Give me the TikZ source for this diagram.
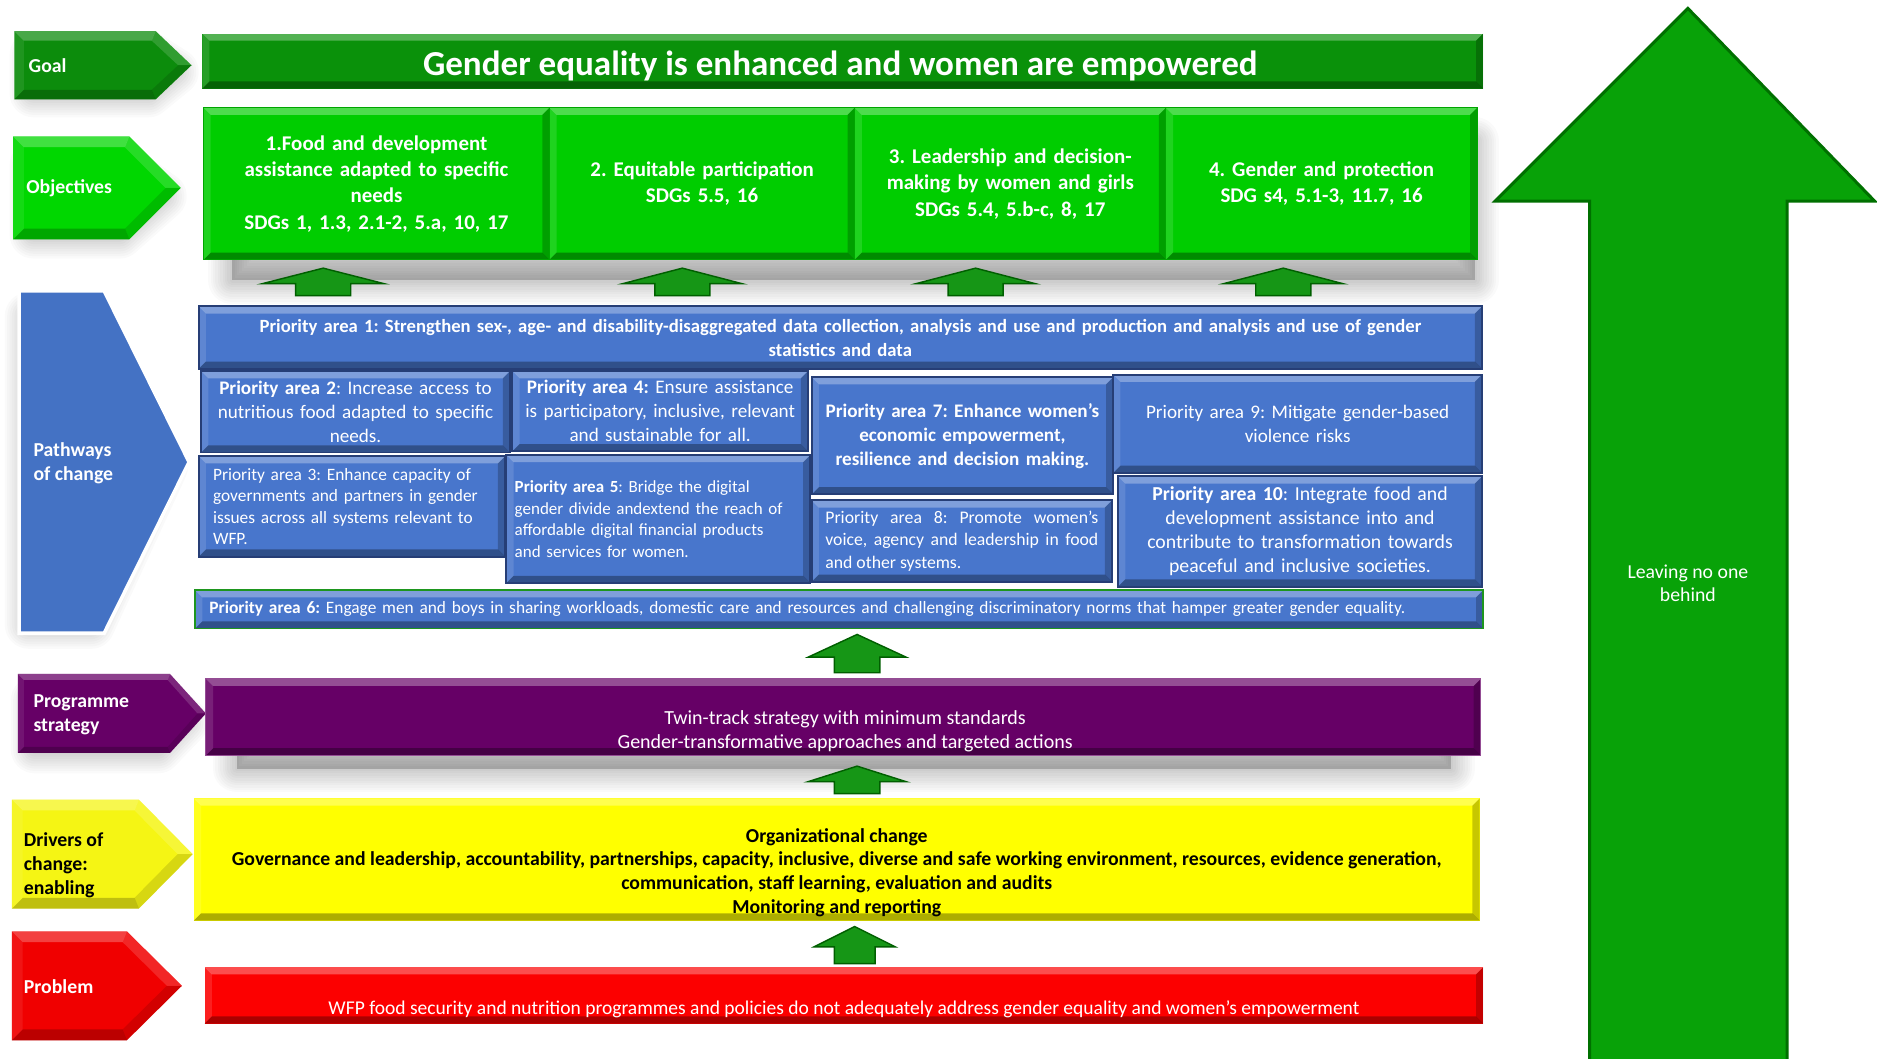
\documentclass[tikz,border=0pt]{standalone}
\usepackage{fontspec}
\setmainfont{Carlito}
\definecolor{goalG}{RGB}{10,145,10}
\definecolor{goalCh}{RGB}{12,140,12}
\definecolor{objG}{RGB}{0,205,0}
\definecolor{objD}{RGB}{0,165,0}
\definecolor{objCh}{RGB}{0,215,0}
\definecolor{paBlue}{RGB}{72,118,204}
\definecolor{paEdge}{RGB}{38,62,118}
\definecolor{chBlue}{RGB}{68,114,196}
\definecolor{purp}{RGB}{102,0,102}
\definecolor{yel}{RGB}{255,255,0}
\definecolor{yelCh}{RGB}{245,245,20}
\definecolor{redR}{RGB}{252,0,0}
\definecolor{redCh}{RGB}{240,0,0}
\definecolor{bigG}{RGB}{8,162,8}
\definecolor{bigGd}{RGB}{0,112,0}
\definecolor{arrG}{RGB}{22,150,22}
\definecolor{arrD}{RGB}{0,95,0}
\definecolor{pasixEdge}{RGB}{30,150,30}
\newlength\bvl \setlength\bvl{6pt}
\newcommand\pbox[7]{%
  \pgfmathsetmacro\pbW{#4-#2}%
  \pgfmathsetmacro\pbH{#5-#3}%
  \pgfmathsetmacro\pbX{(#2+#4)/2}%
  \pgfmathsetmacro\pbY{(#3+#5)/2}%
  \pgfmathsetmacro\pbT{#4-#2-14}%
  \node[minimum width=\pbW pt, minimum height=\pbH pt, text width=\pbT pt, #6] (#1) at (\pbX,\pbY) {#7};}
\newcommand\uarrow[7]{%
  \path[sarr] (#1,#2) coordinate (#7) -- ({#1+#5},#3) -- ({#1+#6},#3) -- ({#1+#6},#4) -- ({#1-#6},#4) -- ({#1-#6},#3) -- ({#1-#5},#3) -- cycle;}
\newcommand\softshadow[3]{%
  \foreach \w in {4,8,12,16,20,24,28,32,36,40} {\filldraw[black, opacity=0.02, line width=\w pt, line join=round, shift={(#1,#2)}] #3;}}
% chevron: left, top, bottom, shoulder x, tip x, colour, bevel
\newcommand\chevron[7]{%
  \pgfmathsetmacro\cM{(#2+#3)/2}%
  \pgfmathsetmacro\cLi{#1+#7}\pgfmathsetmacro\cTi{#2+#7}\pgfmathsetmacro\cBi{#3-#7}%
  \pgfmathsetmacro\cSi{#4-0.4*#7}\pgfmathsetmacro\cXi{#5-1.4*#7}%
  \fill[#6] (#1,#2) -- (#4,#2) -- (#5,\cM) -- (#4,#3) -- (#1,#3) -- cycle;
  \fill[white,opacity=0.25] (#1,#2) -- (#4,#2) -- (\cSi,\cTi) -- (\cLi,\cTi) -- cycle;
  \fill[white,opacity=0.15] (#4,#2) -- (#5,\cM) -- (\cXi,\cM) -- (\cSi,\cTi) -- cycle;
  \fill[black,opacity=0.12] (#5,\cM) -- (#4,#3) -- (\cSi,\cBi) -- (\cXi,\cM) -- cycle;
  \fill[black,opacity=0.22] (#4,#3) -- (#1,#3) -- (\cLi,\cBi) -- (\cSi,\cBi) -- cycle;
  \fill[white,opacity=0.08] (#1,#2) -- (\cLi,\cTi) -- (\cLi,\cBi) -- (#1,#3) -- cycle;}
\begin{document}
\frenchspacing
\begin{tikzpicture}[x=1pt,y=-1pt,
  every node/.style={inner sep=0pt, outer sep=0pt},
  bev/.style={path picture={
    \fill[white,opacity=0.30] (path picture bounding box.north west) -- (path picture bounding box.north east) -- ([xshift=-\bvl,yshift=-\bvl]path picture bounding box.north east) -- ([xshift=\bvl,yshift=-\bvl]path picture bounding box.north west) -- cycle;
    \fill[black,opacity=0.32] (path picture bounding box.south west) -- (path picture bounding box.south east) -- ([xshift=-\bvl,yshift=\bvl]path picture bounding box.south east) -- ([xshift=\bvl,yshift=\bvl]path picture bounding box.south west) -- cycle;
    \fill[white,opacity=0.12] (path picture bounding box.north west) -- ([xshift=\bvl,yshift=-\bvl]path picture bounding box.north west) -- ([xshift=\bvl,yshift=\bvl]path picture bounding box.south west) -- (path picture bounding box.south west) -- cycle;
    \fill[black,opacity=0.22] (path picture bounding box.north east) -- ([xshift=-\bvl,yshift=-\bvl]path picture bounding box.north east) -- ([xshift=-\bvl,yshift=\bvl]path picture bounding box.south east) -- (path picture bounding box.south east) -- cycle;
  }},
  pa/.style={rectangle, fill=paBlue, draw=paEdge, line width=1.6pt, bev, text=white, align=center, font=\fontsize{16}{20}\selectfont},
  pasm/.style={pa, align=left, font=\fontsize{14.5}{18}\selectfont},
  obj/.style={rectangle, fill=objG, draw=objD, line width=0.8pt, bev, text=white, align=center, font=\bfseries\fontsize{17.5}{22}\selectfont},
  bar/.style={rectangle, bev},
  lab/.style={anchor=west, align=left, text=white, font=\bfseries\fontsize{16.5}{20}\selectfont},
  sarr/.style={fill=arrG, draw=arrD, line width=1.2pt, line join=miter},
  btext/.style={text=white, align=center, font=\fontsize{16.7}{20}\selectfont},
]
\useasboundingbox (0,0) rectangle (1568,884);
\fill[white] (0,0) rectangle (1568,884);

% ---------- big arrow on the right ----------
\path[fill=bigG, draw=bigGd, line width=2.5pt, line join=miter]
  (1410,7) -- (1566,168) -- (1493,168) -- (1493,888) -- (1328,888) -- (1328,168) -- (1249,168) -- cycle;
\node[btext, font=\fontsize{16.5}{19.5}\selectfont] (leave) at (1410,487) {Leaving no one\\behind};

% ---------- shadows ----------
\softshadow{2}{4}{(26,42) -- (122,42) -- (144,56) -- (122,74) -- (26,74) -- cycle}
\softshadow{2}{6}{(26,132) -- (98,132) -- (134,158) -- (98,190) -- (26,190) -- cycle}
\softshadow{-4}{4}{(28,260) -- (80,260) -- (141,386) -- (80,518) -- (28,518) -- cycle}
\softshadow{0}{6}{(29,579) -- (132,579) -- (154,597) -- (132,620) -- (29,620) -- cycle}
\softshadow{6}{8}{(188,110) rectangle (1226,226)}
\softshadow{0}{0}{(198,592) rectangle (1212,642)}

% ---------- left column chevrons ----------
\chevron{12}{26}{83}{130}{160}{goalCh}{8}
\node[lab] (lgoal) at (24,55) {Goal};

\chevron{11}{114}{200}{108}{151}{objCh}{9}
\node[lab] (lobj) at (22,157) {Objectives};

\path[fill=chBlue, draw=white, line width=3pt, line join=miter]
  (16,243) -- (87,243) -- (158,386) -- (87,529) -- (16,529) -- cycle;
\node[lab] (lpath) at (28,387) {Pathways\\of change};

\chevron{15}{563}{629}{142}{172}{purp}{5}
\node[lab] (lprog) at (28,597) {Programme\\strategy};

\chevron{10}{668}{759}{116}{161}{yelCh}{9}
\node[lab, text=black] (ldriv) at (20,723) {Drivers of\\change:\\enabling};

\chevron{10}{778}{869}{106}{152}{redCh}{9}
\node[lab] (lprob) at (20,824) {Problem};

% ---------- goal ----------
\pbox{goal}{169}{28}{1239}{74}{bar, fill=goalG}{}
\node[text=white, font=\bfseries\fontsize{29.3}{32}\selectfont] (goal-t) at (702,55.5) {Gender equality is enhanced and women are empowered};

% ---------- objectives ----------
\pbox{obj1}{170}{90}{459}{217}{obj}{1.Food and development\\assistance adapted to specific\\needs\\SDGs 1, 1.3, 2.1-2, 5.a, 10, 17}
\pbox{obj2}{459}{90}{714}{217}{obj}{2. Equitable participation\\SDGs 5.5, 16}
\pbox{obj3}{714}{90}{974}{217}{obj}{3. Leadership and decision-\\making by women and girls\\SDGs 5.4, 5.b-c, 8, 17}
\pbox{obj4}{974}{90}{1234}{217}{obj}{4. Gender and protection\\SDG s4, 5.1-3, 11.7, 16}

% ---------- small up arrows (pathways -> objectives) ----------
\uarrow{270}{224}{237}{247}{51}{23}{a1}
\uarrow{570}{224}{237}{247}{50}{23}{a2}
\uarrow{815}{224}{237}{247}{50}{23}{a3}
\uarrow{1072}{224}{237}{247}{50}{23}{a4}

% ---------- priority areas ----------
\pbox{pa1}{166}{256}{1238}{308}{pa, font=\bfseries\fontsize{15.6}{20}\selectfont}{Priority area 1: Strengthen sex-, age- and disability-disaggregated data collection, analysis and use and production and analysis and use of gender\\statistics and data}
\pbox{pa2}{168}{310}{426}{378}{pa}{\textbf{Priority area 2}: Increase access to\\nutritious food adapted to specific\\needs.}
\pbox{pa3}{166}{381}{422}{465}{pasm, text width=232pt}{Priority area 3: Enhance capacity of\\governments and partners in gender\\issues across all systems relevant to\\WFP.}
\pbox{pa4}{428}{310}{675}{377}{pa}{\textbf{Priority area 4:} Ensure assistance\\is participatory, inclusive, relevant\\and sustainable for all.}
\pbox{pa5}{423}{380}{677}{487}{pasm, text width=240pt, font=\fontsize{14.2}{18}\selectfont}{\textbf{Priority area 5}: Bridge the digital\\gender divide andextend the reach of\\affordable digital financial products\\and services for women.}
\pbox{pa7}{678}{315}{930}{413}{pa, font=\bfseries\fontsize{16}{20}\selectfont}{Priority area 7: Enhance women's\\economic empowerment,\\resilience and decision making.}
\pbox{pa8}{678}{418}{929}{486}{pa, align=justify, text width=228pt, font=\fontsize{14.8}{19}\selectfont}{Priority area 8: Promote women's voice, agency and leadership in food and other systems.}
\pbox{pa9}{930}{313}{1238}{395}{pa}{Priority area 9: Mitigate gender-based\\violence risks}
\pbox{pa10}{934}{398}{1238}{490}{pa, font=\fontsize{16.5}{20}\selectfont}{\textbf{Priority area 10}: Integrate food and\\development assistance into and\\contribute to transformation towards\\peaceful and inclusive societies.}
\pbox{pa6}{163}{493}{1239}{525}{pa, draw=pasixEdge, align=left, text width=1052pt, font=\fontsize{14.5}{17}\selectfont}{\textbf{Priority area 6:} Engage men and boys in sharing workloads, domestic care and resources and challenging discriminatory norms that hamper greater gender equality.}

% ---------- arrow pathways <- programme ----------
\uarrow{716}{530}{549}{562}{41}{19}{a5}

% ---------- programme strategy ----------
\pbox{prog}{172}{567}{1237}{631}{bar, fill=purp, draw=purp!70!white, line width=1pt}{}
\node[btext] (prog-t) at (706,611) {Twin-track strategy with minimum standards\\Gender-transformative approaches and targeted actions};

\uarrow{716}{640}{653}{663}{41}{19}{a6}

% ---------- drivers ----------
\pbox{driv}{162}{667}{1236}{769}{bar, fill=yel}{}
\node[align=center, font=\bfseries\fontsize{16.5}{20}\selectfont] (driv-t) at (699,729) {Organizational change\\Governance and leadership, accountability, partnerships, capacity, inclusive, diverse and safe working environment, resources, evidence generation,\\communication, staff learning, evaluation and audits\\Monitoring and reporting};

\uarrow{714}{774}{791}{805}{34}{17}{a7}

% ---------- problem ----------
\pbox{prob}{171}{808}{1239}{855}{bar, fill=redR}{}
\node[btext, font=\fontsize{16.3}{20}\selectfont] (prob-t) at (705,843) {WFP food security and nutrition programmes and policies do not adequately address gender equality and women's empowerment};
\end{tikzpicture}
\end{document}
